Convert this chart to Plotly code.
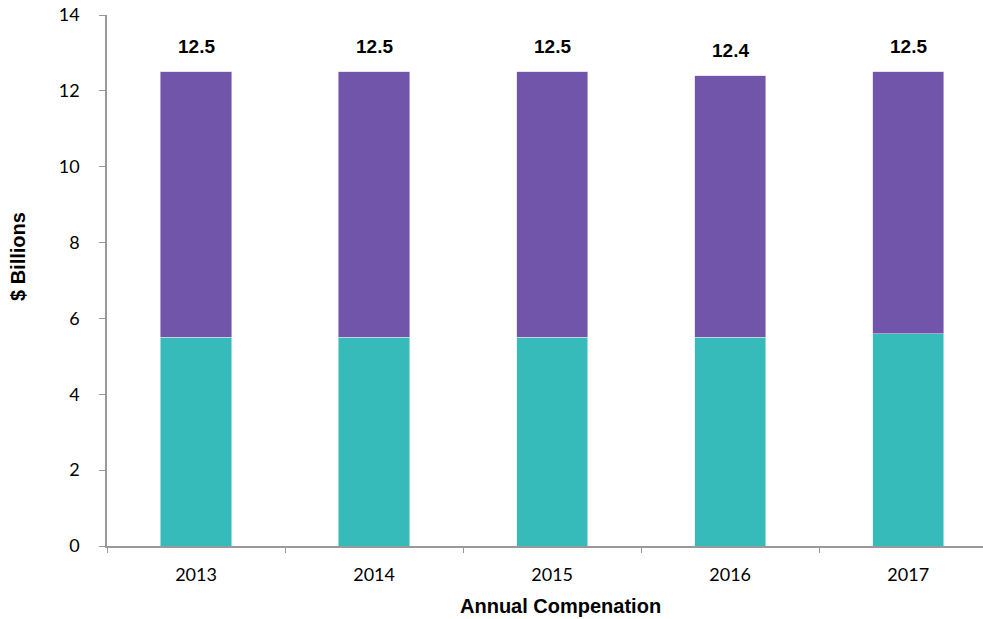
import plotly.graph_objects as go

years = ["2013", "2014", "2015", "2016", "2017"]
base_pay = [5.5, 5.5, 5.5, 5.5, 5.6]
other_pay = [7.0, 7.0, 7.0, 6.9, 6.9]
totals = [12.5, 12.5, 12.5, 12.4, 12.5]

TEAL = "#36BBBA"
PURPLE = "#7055AB"
AXIS_GREY = "#999999"
BOLD_FONT = "Liberation Sans, Arial, sans-serif"
TICK_FONT = "Lato, Carlito, sans-serif"

fig = go.Figure()
fig.add_trace(go.Bar(
    x=years, y=base_pay, marker=dict(color=TEAL, line=dict(color="#d9f0f0", width=0.6)),
    width=0.4, hoverinfo="y",
))
fig.add_trace(go.Bar(
    x=years, y=other_pay, marker=dict(color=PURPLE, line=dict(color="#d8d0ea", width=0.6)),
    width=0.4, hoverinfo="y",
))

# Total labels above each stacked bar (category index positions)
for i, tot in enumerate(totals):
    fig.add_annotation(
        x=i, y=tot, xref="x", yref="y", text=f"<b>{tot:.1f}</b>", showarrow=False,
        yanchor="middle", yshift=25,
        font=dict(family=BOLD_FONT, size=19, color="#000000"),
    )

# Axis titles
fig.add_annotation(
    x=(560 - 107) / 876, y=-0.113, xref="paper", yref="paper",
    text="<b>Annual Compenation</b>", showarrow=False,
    xanchor="center", yanchor="middle",
    font=dict(family=BOLD_FONT, size=20, color="#000000"),
)
fig.add_annotation(
    x=-89 / 876, y=(546 - 257) / 531, xref="paper", yref="paper",
    text="<b>$ Billions</b>", showarrow=False, textangle=-90,
    xanchor="center", yanchor="middle",
    font=dict(family=BOLD_FONT, size=20, color="#000000"),
)

fig.update_layout(
    barmode="stack",
    showlegend=False,
    width=983, height=619,
    margin=dict(l=107, r=0, t=15, b=73),
    paper_bgcolor="white", plot_bgcolor="white",
)
fig.update_xaxes(
    type="category",
    range=[-0.5, 4.42],
    showline=True, linecolor=AXIS_GREY, linewidth=1.5,
    ticks="outside", ticklen=5, tickcolor=AXIS_GREY, tickson="boundaries",
    tickfont=dict(family=TICK_FONT, size=18, color="#000000"),
    ticklabelstandoff=12,
    showgrid=False,
)
fig.update_yaxes(
    range=[0, 14], dtick=2,
    showline=True, linecolor=AXIS_GREY, linewidth=1.5,
    ticks="outside", ticklen=6, tickcolor=AXIS_GREY,
    tickfont=dict(family=TICK_FONT, size=18, color="#000000"),
    ticklabelstandoff=16,
    showgrid=False, zeroline=False,
)

fig.write_html("out.html")
